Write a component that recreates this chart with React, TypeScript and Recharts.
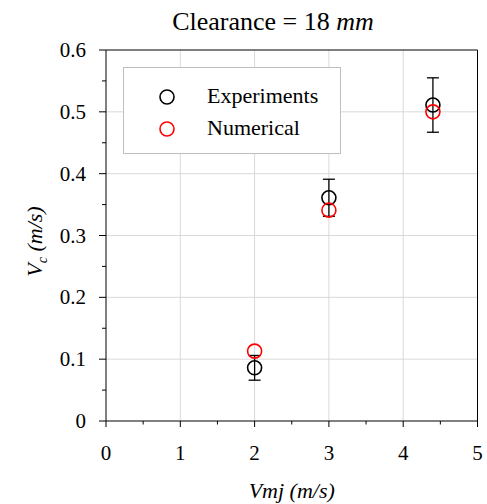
import React from "react";
import { ScatterChart, Scatter, XAxis, YAxis, ErrorBar, ReferenceLine, Legend } from "recharts";

const expX = [2, 3, 4.4];
const expY = [0.086, 0.361, 0.511];
const expErr = [0.02, 0.03, 0.044];
const numX = [2, 3, 4.4];
const numY = [0.113, 0.341, 0.5];

const xTicks = [0, 0.5, 1, 1.5, 2, 2.5, 3, 3.5, 4, 4.5, 5];
const yTicks = [0, 0.05, 0.1, 0.15, 0.2, 0.25, 0.3, 0.35, 0.4, 0.45, 0.5, 0.55, 0.6];
const xMajor = [0, 1, 2, 3, 4, 5];
const yMajor = [0, 0.1, 0.2, 0.3, 0.4, 0.5, 0.6];
const xGrid = [1, 2, 3, 4];
const yGrid = [0.1, 0.2, 0.3, 0.4, 0.5];

const expData = expX.map((x, i) => ({ x, y: expY[i], err: expErr[i] }));
const numData = numX.map((x, i) => ({ x, y: numY[i] }));

const FONT = '"Liberation Serif", "Times New Roman", Times, serif';
const TICK_FS = 21;
const serif = { fontFamily: FONT };

const isMajor = (v: number, list: number[]) => list.some((m) => Math.abs(m - v) < 1e-6);

const XTick = (props: any) => {
  const { x, y, payload } = props;
  const major = isMajor(payload.value, xMajor);
  return (
    <g>
      <line x1={x} x2={x} y1={y} y2={y + (major ? 6 : 3.5)} stroke="#000" strokeWidth={1} />
      {major && (
        <text x={x} y={y + 39} textAnchor="middle" style={serif} fontSize={TICK_FS} fill="#000">
          {payload.value}
        </text>
      )}
    </g>
  );
};

const YTick = (props: any) => {
  const { x, y, payload } = props;
  const major = isMajor(payload.value, yMajor);
  return (
    <g>
      <line x1={x - (major ? 7 : 4)} x2={x} y1={y} y2={y} stroke="#000" strokeWidth={1} />
      {major && (
        <text x={x - 20} y={y + 7} textAnchor="end" style={serif} fontSize={TICK_FS} fill="#000">
          {Math.abs(payload.value) < 1e-9 ? "0" : payload.value.toFixed(1)}
        </text>
      )}
    </g>
  );
};

const XLabel = (props: any) => {
  const vb = props.viewBox || {};
  const cx = vb.x + vb.width / 2;
  return (
    <text x={cx} y={vb.y + 77} textAnchor="middle" style={serif} fontSize={22} fontStyle="italic" fill="#000">
      Vmj (m/s)
    </text>
  );
};

const YLabel = (props: any) => {
  const vb = props.viewBox || {};
  const cy = vb.y + vb.height / 2 + 6;
  const cx = 34;
  return (
    <text
      x={cx}
      y={cy}
      transform={`rotate(-90, ${cx}, ${cy})`}
      textAnchor="middle"
      style={serif}
      fontSize={22}
      fontStyle="italic"
      fill="#000"
    >
      <tspan>V</tspan>
      <tspan fontSize={14} dy={5}>c</tspan>
      <tspan dy={-5}> (m/s)</tspan>
    </text>
  );
};

const blackCircle = (p: any) => (
  <circle cx={p.cx} cy={p.cy} r={7} fill="none" stroke="#000" strokeWidth={1.6} />
);
const redCircle = (p: any) => (
  <circle cx={p.cx} cy={p.cy} r={7} fill="none" stroke="#ff0000" strokeWidth={1.6} />
);

const LegendBox = () => (
  <div
    style={{
      width: 218,
      height: 87,
      boxSizing: "border-box",
      border: "1px solid #bfbfbf",
      background: "#fff",
    }}
  >
    <svg width={216} height={85} style={{ display: "block" }}>
      <circle cx={43} cy={29} r={7} fill="none" stroke="#000" strokeWidth={1.6} />
      <text x={83} y={35} style={serif} fontSize={22} fill="#000">Experiments</text>
      <circle cx={43} cy={61} r={7} fill="none" stroke="#ff0000" strokeWidth={1.6} />
      <text x={83} y={67} style={serif} fontSize={22} fill="#000">Numerical</text>
    </svg>
  </div>
);

export default function App() {
  return (
    <div style={{ padding: 8, width: 487, height: 504, boxSizing: "border-box" }}>
      <style>{"html,body{margin:0;padding:0;overflow:hidden;}"}</style>
      <div style={{ position: "relative", width: 479, height: 496 }}>
        <ScatterChart
          width={479}
          height={496}
          margin={{ top: 42, right: 9.5, bottom: 0, left: 0 }}
        >
          <XAxis
            type="number"
            dataKey="x"
            domain={[0, 5]}
            ticks={xTicks}
            interval={0}
            allowDataOverflow
            height={83}
            tickSize={0}
            tickMargin={0}
            tick={<XTick />}
            axisLine={{ stroke: "#000", strokeWidth: 1 }}
            label={<XLabel />}
          />
          <YAxis
            type="number"
            dataKey="y"
            domain={[0, 0.6]}
            ticks={yTicks}
            interval={0}
            allowDataOverflow
            width={98}
            tickSize={0}
            tickMargin={0}
            tick={<YTick />}
            axisLine={{ stroke: "#000", strokeWidth: 1 }}
            label={<YLabel />}
          />
          {xGrid.map((v) => (
            <ReferenceLine key={"gx" + v} x={v} stroke="#d9d9d9" strokeWidth={1} />
          ))}
          {yGrid.map((v) => (
            <ReferenceLine key={"gy" + v} y={v} stroke="#d9d9d9" strokeWidth={1} />
          ))}
          <ReferenceLine x={5} stroke="#000" strokeWidth={1} />
          <ReferenceLine y={0.6} stroke="#000" strokeWidth={1} />
          <Legend
            layout="horizontal"
            verticalAlign="middle"
            align="center"
            width={218}
            height={87}
            wrapperStyle={{ position: "absolute", left: 115, top: 59, width: 218, height: 87 }}
            content={<LegendBox />}
          />
          <Scatter name="Experiments" data={expData} shape={blackCircle} isAnimationActive={false}>
            <ErrorBar dataKey="err" direction="y" width={6} stroke="#000" strokeWidth={1.3} />
          </Scatter>
          <Scatter name="Numerical" data={numData} shape={redCircle} isAnimationActive={false} />
        </ScatterChart>
        <svg
          width={479}
          height={42}
          style={{ position: "absolute", left: 0, top: 0, pointerEvents: "none", overflow: "visible" }}
        >
          <text x={265} y={22} textAnchor="middle" style={serif} fontSize={26} fill="#000">
            Clearance = 18 <tspan fontStyle="italic">mm</tspan>
          </text>
        </svg>
      </div>
    </div>
  );
}
